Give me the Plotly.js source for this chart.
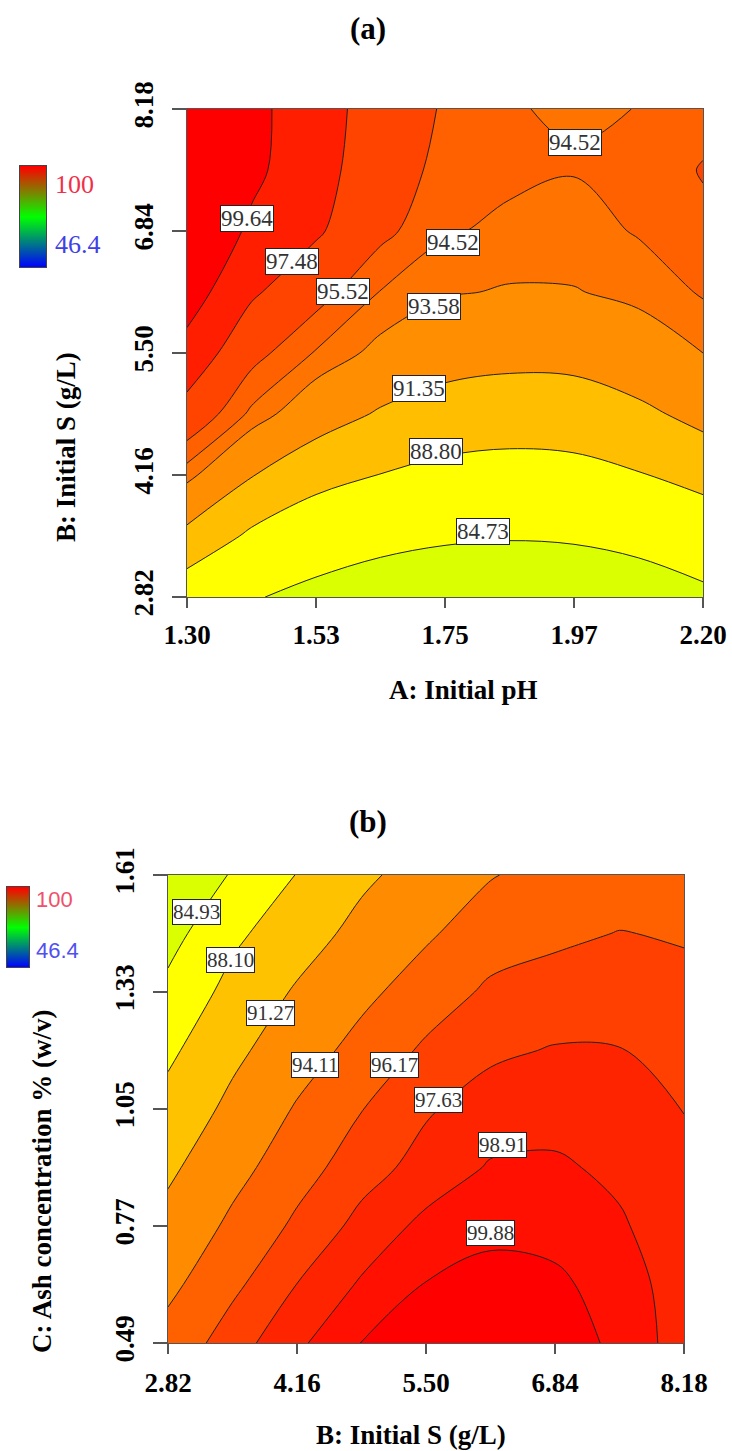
<!DOCTYPE html>
<html>
<head>
<meta charset="utf-8">
<script src="https://cdn.plot.ly/plotly-3.0.1.min.js"></script>
<style>
html,body{margin:0;padding:0;background:#ffffff;}
#chart{width:732px;height:1451px;}
</style>
</head>
<body>
<div id="chart"></div>
<script>
// ---------------- Panel (a): A = Initial pH, B = Initial S (g/L) ----------------
const phA = [1.30, 1.4125, 1.525, 1.6375, 1.75, 1.8625, 1.975, 2.0875, 2.20];
const sA  = [2.82, 3.49, 4.16, 4.83, 5.50, 6.17, 6.84, 7.51, 8.18];
const zA = [
  [87.10, 85.00, 83.73, 82.78, 82.20, 81.93, 82.13, 82.83, 84.00],
  [90.76, 88.36, 86.79, 85.78, 85.19, 84.96, 85.14, 85.79, 86.93],
  [94.00, 91.46, 89.75, 88.75, 88.06, 87.79, 87.98, 88.66, 89.69],
  [96.69, 94.29, 92.44, 91.12, 90.42, 90.14, 90.24, 90.83, 92.04],
  [98.88, 95.98, 94.43, 93.18, 92.24, 91.96, 92.01, 92.94, 93.58],
  [100.70, 97.77, 96.05, 94.48, 93.71, 93.47, 93.53, 93.82, 94.64],
  [101.80, 99.26, 97.75, 95.86, 94.64, 94.28, 94.05, 94.62, 95.30],
  [102.40, 100.13, 98.20, 96.35, 95.10, 94.75, 94.58, 95.00, 95.58],
  [102.60, 100.28, 98.26, 96.66, 95.35, 94.56, 94.44, 94.53, 95.20]
];
const levelsA = [84.73, 88.80, 91.35, 93.58, 94.52, 95.52, 97.48, 99.64];
const labelTextA = ['99.64', '97.48', '95.52', '94.52', '94.52', '93.58', '91.35', '88.80', '84.73'];
const labelXA = [1.405, 1.483, 1.572, 1.764, 1.977, 1.731, 1.705, 1.734, 1.816];
const labelYA = [6.974, 6.503, 6.174, 6.711, 7.810, 6.010, 5.111, 4.420, 3.543];
const tickValsXA = [1.30, 1.525, 1.75, 1.975, 2.20];
const tickTextXA = ['1.30', '1.53', '1.75', '1.97', '2.20'];
const tickValsYA = [2.82, 4.16, 5.50, 6.84, 8.18];
const tickTextYA = ['2.82', '4.16', '5.50', '6.84', '8.18'];
const xTitleA = 'A: Initial pH';
const yTitleA = 'B: Initial S (g/L)';

// ---------------- Panel (b): B = Initial S (g/L), C = Ash concentration ----------------
const sB   = [2.82, 3.49, 4.16, 4.83, 5.50, 6.17, 6.84, 7.51, 8.18];
const ashB = [0.49, 0.63, 0.77, 0.91, 1.05, 1.19, 1.33, 1.47, 1.61];
// rows = ashB, columns = sB
const zB = [
  [94.96, 97.00, 98.70, 99.90, 100.30, 100.45, 100.30, 99.70, 98.37],
  [93.58, 95.81, 97.65, 99.07, 99.92, 100.10, 100.05, 99.50, 98.30],
  [92.19, 94.60, 96.52, 98.06, 99.25, 99.72, 99.59, 99.06, 98.15],
  [90.74, 93.33, 95.43, 97.07, 98.12, 99.03, 99.09, 98.65, 97.95],
  [89.15, 92.00, 94.33, 96.12, 97.48, 98.23, 98.45, 98.17, 97.60],
  [87.50, 90.60, 93.00, 94.87, 96.48, 97.39, 97.72, 97.68, 97.13],
  [85.70, 89.07, 91.60, 93.56, 95.19, 96.49, 96.85, 96.97, 96.60],
  [83.82, 87.46, 89.90, 92.15, 93.80, 95.31, 95.84, 96.22, 96.03],
  [81.80, 85.20, 88.20, 90.72, 92.45, 93.98, 94.90, 95.30, 95.50]
];
const levelsB = [84.93, 88.10, 91.27, 94.11, 96.17, 97.63, 98.91, 99.88];
const labelTextB = ['84.93', '88.10', '91.27', '94.11', '96.17', '97.63', '98.91', '99.88'];
const labelXB = [3.120, 3.464, 3.880, 4.347, 5.168, 5.625, 6.290, 6.165];
const labelYB = [1.521, 1.407, 1.280, 1.155, 1.155, 1.072, 0.964, 0.753];
const tickValsXB = [2.82, 4.16, 5.50, 6.84, 8.18];
const tickTextXB = ['2.82', '4.16', '5.50', '6.84', '8.18'];
const tickValsYB = [0.49, 0.77, 1.05, 1.33, 1.61];
const tickTextYB = ['0.49', '0.77', '1.05', '1.33', '1.61'];
const xTitleB = 'B: Initial S (g/L)';
const yTitleB = 'C: Ash concentration % (w/v)';

// colour-key range shown beside each panel
const keyRange = [46.4, 100];
const keyText = ['100', '46.4'];

// ---------------- styles ----------------
const bandColorsA = ['#FFFF00', '#FFBE00', '#FF8E00', '#FF7300', '#FF6000', '#FF4400', '#FF1E00', '#FF0000'];
const bandColorsB = ['#FFFF00', '#FFC200', '#FF8C00', '#FF6000', '#FF4000', '#FF2400', '#FF1000', '#FF0000'];
const baseColor = '#DAFF00';
const W = 732, H = 1451;
const px = (a, b) => [a / W, b / W];
const py = (top, bottom) => [1 - bottom / H, 1 - top / H];
const serif = 'Liberation Serif, Times New Roman, serif';
const sans = 'Liberation Sans, Arial, sans-serif';
const lineCol = '#555555';

function constraintTraces(x, y, z, levels, colors, xa, ya) {
  return levels.map((lv, i) => ({
    type: 'contour', x: x, y: y, z: z, xaxis: xa, yaxis: ya,
    contours: {type: 'constraint', operation: '<', value: lv},
    fillcolor: colors[i],
    line: {color: '#222222', width: 1, smoothing: 1.0},
    showscale: false, hoverinfo: 'skip', showlegend: false
  }));
}

const keyTrace = (xa, ya) => ({
  type: 'heatmap', xaxis: xa, yaxis: ya,
  x: [0, 1], y: [0, 1],
  z: [[keyRange[0], keyRange[0]], [keyRange[1], keyRange[1]]],
  zmin: keyRange[0], zmax: keyRange[1], zsmooth: 'best',
  colorscale: [[0, '#0000FF'], [0.5, '#00FF00'], [1, '#FF0000']],
  showscale: false, hoverinfo: 'skip'
});

const data = [].concat(
  constraintTraces(phA, sA, zA, levelsA, bandColorsA, 'x', 'y'),
  constraintTraces(sB, ashB, zB, levelsB, bandColorsB, 'x2', 'y2'),
  [keyTrace('x3', 'y3'), keyTrace('x4', 'y4')]
);

const tickFont = {family: serif, size: 27, weight: 'bold', color: '#000'};
const titleFont = {family: serif, size: 27, weight: 'bold', color: '#000'};
const baseAxis = {
  showgrid: false, zeroline: false, showline: true, mirror: true,
  linecolor: lineCol, linewidth: 1, ticks: 'outside', tickcolor: lineCol,
  tickwidth: 1.5, tickfont: tickFont, fixedrange: true
};
const keyAxis = {
  showgrid: false, zeroline: false, showline: true, mirror: true,
  linecolor: '#444', linewidth: 1, ticks: '', showticklabels: false, fixedrange: true
};

const layout = {
  width: W, height: H, autosize: false,
  margin: {l: 0, r: 0, t: 0, b: 0},
  paper_bgcolor: '#ffffff', plot_bgcolor: baseColor,
  showlegend: false,
  xaxis: Object.assign({}, baseAxis, {
    domain: px(187, 703), range: [1.30, 2.20], anchor: 'y',
    tickvals: tickValsXA, ticktext: tickTextXA, ticklen: 10, ticklabelstandoff: 4
  }),
  yaxis: Object.assign({}, baseAxis, {
    domain: py(109, 597), range: [2.82, 8.18], anchor: 'x',
    tickvals: tickValsYA, ticktext: tickTextYA, ticklen: 14, tickangle: -90, ticklabelstandoff: 8
  }),
  xaxis2: Object.assign({}, baseAxis, {
    domain: px(168, 684), range: [2.82, 8.18], anchor: 'y2',
    tickvals: tickValsXB, ticktext: tickTextXB, ticklen: 10, ticklabelstandoff: 6
  }),
  yaxis2: Object.assign({}, baseAxis, {
    domain: py(875, 1343), range: [0.49, 1.61], anchor: 'x2',
    tickvals: tickValsYB, ticktext: tickTextYB, ticklen: 14, tickangle: -90, ticklabelstandoff: 8
  }),
  xaxis3: Object.assign({}, keyAxis, {domain: px(20, 46), range: [0, 1], anchor: 'y3'}),
  yaxis3: Object.assign({}, keyAxis, {domain: py(166, 267), range: [0, 1], anchor: 'x3'}),
  xaxis4: Object.assign({}, keyAxis, {domain: px(7, 29), range: [0, 1], anchor: 'y4'}),
  yaxis4: Object.assign({}, keyAxis, {domain: py(887, 967), range: [0, 1], anchor: 'x4'}),
  annotations: []
};

const paperText = (text, x, y, font, extra) => Object.assign({
  text: text, xref: 'paper', yref: 'paper', x: x / W, y: 1 - y / H, showarrow: false,
  xanchor: 'center', yanchor: 'middle', font: font
}, extra || {});

// panel titles
const panelFont = {family: serif, size: 31, weight: 'bold', color: '#000'};
layout.annotations.push(
  paperText('(a)', 368, 29, panelFont),
  paperText('(b)', 368, 821, panelFont)
);

// axis titles
layout.annotations.push(
  paperText(xTitleA, 463, 690, titleFont),
  paperText(yTitleA, 66, 447, titleFont, {textangle: -90}),
  paperText(xTitleB, 411, 1435, titleFont),
  paperText(yTitleB, 42, 1182, titleFont, {textangle: -90})
);

// colour-key labels
layout.annotations.push(
  paperText(keyText[0], 53, 184, {family: serif, size: 26, color: '#F0304A'}, {xanchor: 'left'}),
  paperText(keyText[1], 53, 244, {family: serif, size: 26, color: '#4040E6'}, {xanchor: 'left'}),
  paperText(keyText[0], 34, 899, {family: sans, size: 22, color: '#F0506A'}, {xanchor: 'left'}),
  paperText(keyText[1], 34, 951, {family: sans, size: 22, color: '#5050F0'}, {xanchor: 'left'})
);

// contour labels
function addLabels(texts, xs, ys, xref, yref, size) {
  texts.forEach((t, i) => layout.annotations.push({
    text: t, x: xs[i], y: ys[i], xref: xref, yref: yref, showarrow: false,
    bgcolor: '#ffffff', bordercolor: '#222222', borderwidth: 1, borderpad: 0,
    font: {family: serif, size: size, color: '#333333'}
  }));
}
addLabels(labelTextA, labelXA, labelYA, 'x', 'y', 23);
addLabels(labelTextB, labelXB, labelYB, 'x2', 'y2', 21);

Plotly.newPlot('chart', data, layout, {displayModeBar: false, staticPlot: true});
</script>
</body>
</html>
